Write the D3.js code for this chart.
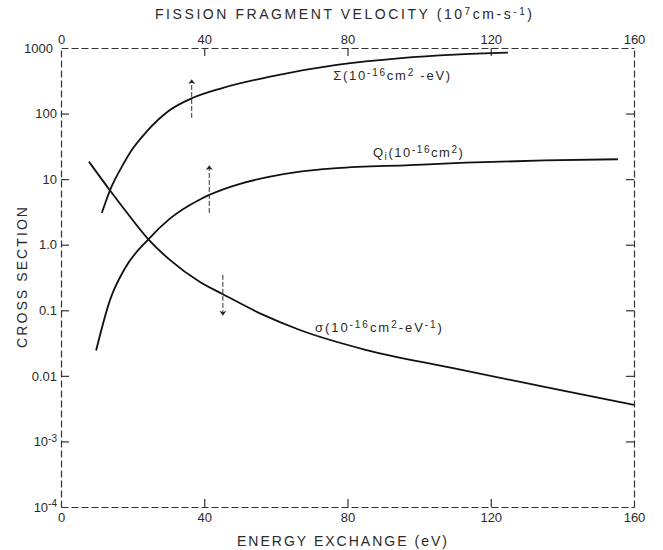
<!DOCTYPE html>
<html>
<head>
<meta charset="utf-8">
<script src="https://cdn.jsdelivr.net/npm/d3@7"></script>
<style>
  body { margin: 0; background: #fff; }
  text { font-family: "Liberation Sans", Arial, sans-serif; fill: #2a2a2a; }
</style>
</head>
<body>
<div id="viz-container"></div>
<script>
// values (energy exchange in eV, cross section on log scale)
let sumEnergy = [11.4, 13.7, 17, 20, 23.9, 30.4, 36.5, 45, 58.4, 77, 95, 110, 124.8];
let sumValues = [3.05, 6.8, 15.5, 29, 53, 113, 171, 245, 366, 551, 700, 790, 850];

let qEnergy = [9.8, 13.7, 18, 24.4, 30.4, 38.8, 41.4, 50, 58.4, 66.7, 77, 97.5, 113, 135, 155.5];
let qValues = [0.0243, 0.144, 0.45, 1.21, 2.5, 4.9, 5.75, 8.5, 10.9, 13.0, 14.7, 16.4, 17.8, 19.3, 20.1];

let sigEnergy = [7.8, 13.7, 18, 24.4, 30.4, 38.8, 45.2, 56.5, 66.7, 85, 109.5, 135, 160];
let sigValues = [18.5, 6.7, 3.3, 1.21, 0.586, 0.27, 0.176, 0.085, 0.050, 0.025, 0.0131, 0.0068, 0.0036];

// arrows: energy, from value, to value
let arrowEnergy = [36.5, 41.4, 45.2];
let arrowFrom = [85.7, 3.05, 0.347];
let arrowTo = [303, 14.8, 0.091];

let xTicks = [0, 40, 80, 120, 160];
let velocityTicks = [0, 40, 80, 120, 160];
let yTicks = [1000, 100, 10, 1, 0.1, 0.01, 0.001, 0.0001];
let yTickLabels = [["1000"], ["100"], ["10"], ["1.0"], ["0.1"], ["0.01"], ["10", "-3"], ["10", "-4"]];

let mLeft = 61, mRight = 634, mTop = 48, mBottom = 507;

let viz = d3.select("#viz-container")
  .append("svg")
    .attr("width", 663)
    .attr("height", 550)
;

let x = d3.scaleLinear().domain([0, 160]).range([mLeft, mRight]);
let xTop = d3.scaleLinear().domain([0, 160]).range([mLeft, mRight]);
let y = d3.scaleLog().domain([0.0001, 1000]).range([mBottom, mTop]);

// axes, ticks pointing into the frame
let gBottom = viz.append("g")
    .attr("transform", "translate(0," + mBottom + ")")
    .call(d3.axisBottom(x).tickValues(xTicks).tickSize(-8).tickSizeOuter(0).tickPadding(6));

let gTop = viz.append("g")
    .attr("transform", "translate(0," + mTop + ")")
    .call(d3.axisTop(xTop).tickValues(velocityTicks).tickSize(-8).tickSizeOuter(0).tickPadding(4));

let gLeft = viz.append("g")
    .attr("transform", "translate(" + mLeft + ",0)")
    .call(d3.axisLeft(y).tickValues(yTicks).tickSize(-8).tickSizeOuter(0).tickPadding(4));

let gRight = viz.append("g")
    .attr("transform", "translate(" + mRight + ",0)")
    .call(d3.axisRight(y).tickValues(yTicks).tickSize(-8).tickSizeOuter(0).tickFormat(""));

[gBottom, gTop, gLeft, gRight].forEach(function(g) {
  g.select(".domain").attr("stroke", "#333").attr("stroke-width", 1.2).attr("stroke-dasharray", "7,3");
  g.selectAll(".tick line").attr("stroke", "#333").attr("stroke-width", 1.2);
  g.selectAll(".tick text").style("font-size", "13px").attr("fill", "#2a2a2a");
});
// hide the corner ticks (they sit on the frame)
gBottom.selectAll(".tick line").filter(d => d == 0 || d == 160).remove();
gTop.selectAll(".tick line").filter(d => d == 0 || d == 160).remove();
gLeft.selectAll(".tick line").filter(d => d == 1000 || d == 0.0001).remove();
gRight.selectAll(".tick line").filter(d => d == 1000 || d == 0.0001).remove();

// left labels with superscripts
gLeft.selectAll(".tick text").each(function(d, i) {
  let t = d3.select(this);
  let lab = yTickLabels[i];
  t.text(null).attr("x", d == 1000 ? -8 : -4);
  t.append("tspan").text(lab[0]);
  if (lab.length > 1) {
    t.append("tspan").attr("dy", "-0.45em").style("font-size", "10px").text(lab[1]);
  }
});

// curves
let line = d3.line()
    .x(d => x(d[0]))
    .y(d => y(d[1]))
    .curve(d3.curveMonotoneX);

let series = [
  d3.zip(sumEnergy, sumValues),
  d3.zip(qEnergy, qValues),
  d3.zip(sigEnergy, sigValues)
];

viz.selectAll("path.curve")
  .data(series)
  .enter()
  .append("path")
    .attr("class", "curve")
    .attr("d", line)
    .attr("fill", "none")
    .attr("stroke", "#111")
    .attr("stroke-width", 1.8)
;

// small arrows
viz.append("defs").append("marker")
    .attr("id", "head")
    .attr("viewBox", "0 0 10 10")
    .attr("refX", 5).attr("refY", 5)
    .attr("markerWidth", 7).attr("markerHeight", 9)
    .attr("markerUnits", "userSpaceOnUse")
    .attr("orient", "auto")
  .append("path")
    .attr("d", "M0,2 L5,9 L10,2 L5,4 Z")
    .attr("transform", "rotate(-90,5,5)")
    .attr("fill", "#222");

arrowEnergy.forEach(function(e, i) {
  viz.append("line")
      .attr("x1", x(e)).attr("x2", x(e))
      .attr("y1", y(arrowFrom[i])).attr("y2", y(arrowTo[i]))
      .attr("stroke", "#333")
      .attr("stroke-width", 1)
      .attr("stroke-dasharray", "5,2")
      .attr("marker-end", "url(#head)");
});

// curve labels
function label(e, v, len, parts) {
  let t = viz.append("text")
      .attr("x", x(e))
      .attr("y", y(v))
      .attr("textLength", len).attr("lengthAdjust", "spacing")
      .style("font-size", "13px");
  parts.forEach(function(p) {
    let s = t.append("tspan").text(p[0]);
    if (p[1] == "sup") s.attr("baseline-shift", "45%").style("font-size", "10px");
    if (p[1] == "sub") s.attr("baseline-shift", "-30%").style("font-size", "10px");
  });
}

label(76, 320, 117, [["Σ(10"], ["-16", "sup"], ["cm"], ["2", "sup"], [" -eV)"]]);
label(87.1, 21.8, 90, [["Q"], ["i", "sub"], ["(10"], ["-16", "sup"], ["cm"], ["2", "sup"], [")"]]);
label(70.9, 0.047, 127, [["σ(10"], ["-16", "sup"], ["cm"], ["2", "sup"], ["-eV"], ["-1", "sup"], [")"]]);

// axis titles
let topTitle = viz.append("text")
    .attr("x", 155).attr("y", 19)
    .attr("textLength", 377).attr("lengthAdjust", "spacing")
    .style("font-size", "14px");
topTitle.append("tspan").text("FISSION FRAGMENT VELOCITY (10");
topTitle.append("tspan").attr("baseline-shift", "45%").style("font-size", "10px").text("7");
topTitle.append("tspan").text("cm-s");
topTitle.append("tspan").attr("baseline-shift", "45%").style("font-size", "10px").text("-1");
topTitle.append("tspan").text(")");

viz.append("text")
    .attr("x", 237).attr("y", 546)
    .attr("textLength", 210).attr("lengthAdjust", "spacing")
    .style("font-size", "14px")
    .text("ENERGY EXCHANGE (eV)");

viz.append("text")
    .attr("transform", "translate(27,348) rotate(-90)")
    .attr("textLength", 141).attr("lengthAdjust", "spacing")
    .style("font-size", "14px")
    .text("CROSS SECTION");
</script>
</body>
</html>
